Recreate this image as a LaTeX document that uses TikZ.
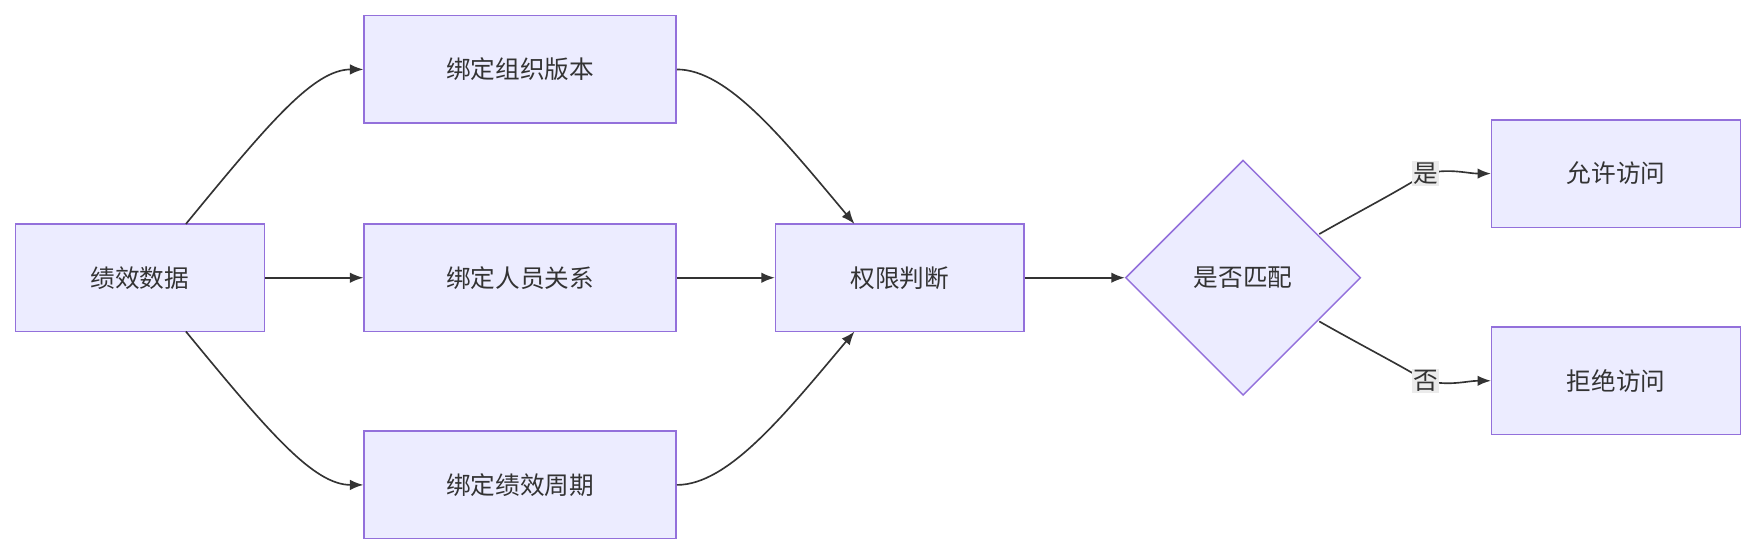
\documentclass[tikz,border=0pt]{standalone}
\usepackage{fontspec}
\setmainfont{Noto Sans CJK SC}
\usetikzlibrary{shapes.geometric,arrows.meta}
\definecolor{bfill}{HTML}{ECECFF}
\definecolor{bline}{HTML}{9370DB}
\definecolor{tx}{HTML}{333333}
\begin{document}
\begin{tikzpicture}[x=0.75pt,y=-0.75pt,
  box/.style={draw=bline,fill=bfill,line width=1pt,minimum width=166.5pt,minimum height=72pt,inner sep=0pt,font=\fontsize{16.5}{18}\selectfont,text=tx},
  wbox/.style={box,minimum width=209pt},
  dia/.style={diamond,draw=bline,fill=bfill,line width=1pt,minimum width=157.5pt,minimum height=157.5pt,inner sep=0pt,font=\fontsize{16.5}{18}\selectfont,text=tx},
  arr/.style={draw=tx,line width=1.1pt,-{Latex[length=9pt,width=7pt]}},
  lab/.style={fill=black!8,inner sep=1pt,font=\fontsize{16.5}{18}\selectfont,text=tx}]
\useasboundingbox (0,0) rectangle (1568,496);
\node[box] (a) at (125,248) {绩效数据};
\node[wbox] (b1) at (464.5,62) {绑定组织版本};
\node[wbox] (b2) at (464.5,248) {绑定人员关系};
\node[wbox] (b3) at (464.5,433) {绑定绩效周期};
\node[box] (c) at (803.5,248) {权限判断};
\node[dia] (d) at (1110,248) {是否匹配};
\node[box] (y) at (1443,155) {允许访问};
\node[box] (n) at (1443,340) {拒绝访问};
\coordinate (ly) at (1273,155);
\coordinate (ln) at (1273,340);
\draw[arr] (166,200) .. controls (240,110) and (280,62) .. (b1.west);
\draw[arr] (a.east) -- (b2.west);
\draw[arr] (166,296) .. controls (240,386) and (280,433) .. (b3.west);
\draw[arr] (b1.east) .. controls (650,62) and (700,125) .. (763,200);
\draw[arr] (b2.east) -- (c.west);
\draw[arr] (b3.east) .. controls (650,433) and (700,371) .. (763,296);
\draw[arr] (c.east) -- (d.west);
\draw[line width=1.1pt,draw=tx] (1178,209) .. controls (1215,188) and (1250,170) .. (ly);
\draw[arr] (ly) .. controls (1295,150) and (1310,155) .. (y.west);
\draw[line width=1.1pt,draw=tx] (1178,287) .. controls (1215,308) and (1250,326) .. (ln);
\draw[arr] (ln) .. controls (1295,345) and (1310,340) .. (n.west);
\node[lab] at (ly) {是};
\node[lab] at (ln) {否};
\end{tikzpicture}
\end{document}
